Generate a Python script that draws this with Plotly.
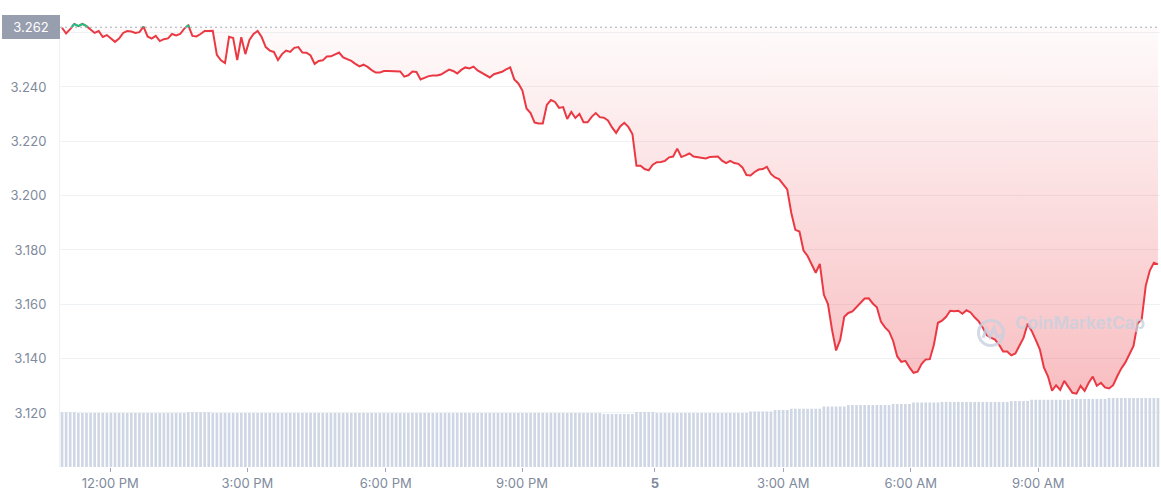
"""
24h price chart with volume bars, CoinMarketCap style
"""
import plotly.graph_objects as go

# opening price (reference line)
base_price = 3.262

# price samples, in order
price = [
    3.2618, 3.2597, 3.2613, 3.2632, 3.2624, 3.2632, 3.2624, 3.2610, 3.2599, 3.2606,
    3.2584, 3.2591, 3.2577, 3.2566, 3.2578, 3.2599, 3.2606, 3.2604, 3.2599, 3.2602,
    3.2622, 3.2586, 3.2578, 3.2588, 3.2569, 3.2576, 3.2579, 3.2595, 3.2590, 3.2595,
    3.2615, 3.2627, 3.2588, 3.2586, 3.2595, 3.2606, 3.2606, 3.2607, 3.2518, 3.2498,
    3.2488, 3.2585, 3.2580, 3.2499, 3.2583, 3.2521, 3.2573, 3.2595, 3.2606, 3.2584,
    3.2547, 3.2534, 3.2529, 3.2499, 3.2521, 3.2534, 3.2529, 3.2544, 3.2547, 3.2527,
    3.2526, 3.2516, 3.2485, 3.2496, 3.2498, 3.2512, 3.2513, 3.2521, 3.2527, 3.2509,
    3.2503, 3.2496, 3.2485, 3.2476, 3.2482, 3.2474, 3.2462, 3.2453, 3.2453, 3.2459,
    3.2459, 3.2459, 3.2459, 3.2457, 3.2438, 3.2443, 3.2457, 3.2455, 3.2428, 3.2435,
    3.2440, 3.2442, 3.2442, 3.2446, 3.2455, 3.2464, 3.2459, 3.2450, 3.2463, 3.2472,
    3.2468, 3.2475, 3.2461, 3.2453, 3.2442, 3.2435, 3.2447, 3.2451, 3.2456, 3.2465,
    3.2472, 3.2428, 3.2413, 3.2387, 3.2321, 3.2304, 3.2269, 3.2266, 3.2266, 3.2334,
    3.2352, 3.2345, 3.2323, 3.2326, 3.2282, 3.2308, 3.2286, 3.2301, 3.2270, 3.2270,
    3.2290, 3.2304, 3.2289, 3.2287, 3.2277, 3.2251, 3.2231, 3.2255, 3.2268, 3.2253,
    3.2227, 3.2110, 3.2110, 3.2098, 3.2093, 3.2114, 3.2123, 3.2124, 3.2128, 3.2141,
    3.2144, 3.2173, 3.2142, 3.2148, 3.2155, 3.2144, 3.2142, 3.2141, 3.2137, 3.2142,
    3.2142, 3.2144, 3.2129, 3.2120, 3.2128, 3.2120, 3.2117, 3.2104, 3.2076, 3.2074,
    3.2087, 3.2096, 3.2098, 3.2106, 3.2080, 3.2067, 3.2061, 3.2041, 3.2023, 3.1936,
    3.1874, 3.1868, 3.1798, 3.1778, 3.1749, 3.1716, 3.1749, 3.1635, 3.1601, 3.1506,
    3.1430, 3.1469, 3.1554, 3.1568, 3.1574, 3.1590, 3.1605, 3.1621, 3.1622, 3.1603,
    3.1589, 3.1536, 3.1515, 3.1500, 3.1465, 3.1408, 3.1388, 3.1392, 3.1368, 3.1348,
    3.1352, 3.1381, 3.1397, 3.1398, 3.1451, 3.1532, 3.1540, 3.1554, 3.1576, 3.1574,
    3.1576, 3.1565, 3.1578, 3.1570, 3.1552, 3.1537, 3.1514, 3.1486, 3.1477, 3.1470,
    3.1451, 3.1426, 3.1426, 3.1412, 3.1419, 3.1445, 3.1476, 3.1528, 3.1502, 3.1469,
    3.1434, 3.1368, 3.1335, 3.1282, 3.1302, 3.1285, 3.1318, 3.1296, 3.1274, 3.1271,
    3.1300, 3.1281, 3.1311, 3.1334, 3.1300, 3.1311, 3.1294, 3.1290, 3.1302, 3.1335,
    3.1364, 3.1386, 3.1415, 3.1447, 3.1530, 3.1544, 3.1668, 3.1724, 3.1753, 3.1747,
]

# 24h volume (millions) per sample
volume = [
    109.5, 109.5, 109.5, 109.5, 108, 108, 108, 108, 108, 108,
    108, 108, 108, 108, 108, 108, 108, 108, 108, 108,
    108, 108, 108, 108, 108, 108, 108, 108, 108, 108,
    108, 109.5, 109.5, 109.5, 109.5, 109.5, 109.5, 108, 108, 108,
    108, 108, 108, 108, 108, 108, 108, 108, 108, 108,
    108, 108, 108, 108, 108, 108, 108, 108, 108, 108,
    108, 108, 108, 108, 108, 108, 108, 108, 108, 108,
    108, 108, 108, 108, 108, 108, 108, 108, 108, 108,
    108, 108, 108, 108, 108, 108, 108, 108, 108, 108,
    108, 108, 108, 108, 108, 108, 108, 108, 108, 108,
    108, 108, 108, 108, 108, 108, 108, 108, 108, 108,
    108, 108, 108, 108, 108, 108, 108, 108, 108, 108,
    108, 108, 108, 108, 108, 108, 108, 108, 108, 108,
    108, 108, 108, 106, 106, 106, 106, 106, 106, 106,
    106, 110, 110, 110, 110, 110, 108, 108, 108, 108,
    108, 108, 108, 108, 108, 108, 108, 108, 108, 108,
    108, 108, 108, 108, 108, 108, 108, 108, 108, 111,
    111, 111, 111, 111, 111, 114, 114, 114, 114, 116.5,
    116.5, 116.5, 116.5, 116.5, 116.5, 116.5, 116.5, 121, 121, 121,
    121, 121, 121, 124, 124, 124, 124, 124, 124, 124,
    124, 124, 124, 124, 126, 126, 126, 126, 126, 129,
    129, 129, 129, 129, 129, 129, 130, 130, 130, 130,
    130, 130, 130, 130, 130, 130, 130, 130, 130, 130,
    130, 130, 130, 132, 132, 132, 132, 132, 134.5, 134.5,
    134.5, 134.5, 134.5, 134.5, 134.5, 134.5, 134.5, 134.5, 136, 136,
    136, 136, 136, 136, 136, 136, 136, 138, 138, 138,
    138, 138, 138, 138, 138, 138, 138, 138, 138, 138,
]

# x-axis labels and the sample position where each one falls
tick_labels = ["12:00 PM", "3:00 PM", "6:00 PM", "9:00 PM", "<b>5</b>",
               "3:00 AM", "6:00 AM", "9:00 AM"]
tick_pos = [11.85, 45.5, 79.45, 112.9, 145.5, 177.0, 208.3, 239.6]

y_ticks = [3.12, 3.14, 3.16, 3.18, 3.20, 3.22, 3.24, 3.26]

RED = "#ea3943"
GREEN = "#16c784"
GREY = "#808a9d"
MARK = "rgba(200,208,222,0.8)"

W, H = 1161, 500
ML, MR, MT, MB = 60, 1, 15, 33

idx = list(range(len(price)))

# pieces of the line that sit above the opening price are drawn green
gx, gy = [], []
for i in range(len(price) - 1):
    a, b = price[i], price[i + 1]
    if a < base_price and b < base_price:
        continue
    if a >= base_price and b >= base_price:
        seg = [(i, a), (i + 1, b)]
    elif a >= base_price:
        t = (a - base_price) / (a - b)
        seg = [(i, a), (i + t, base_price)]
    else:
        t = (base_price - a) / (b - a)
        seg = [(i + t, base_price), (i + 1, b)]
    gx += [seg[0][0], seg[1][0], None]
    gy += [seg[0][1], seg[1][1], None]

fig = go.Figure()

# volume bars in the background
fig.add_trace(go.Bar(
    x=idx, y=volume, yaxis="y2",
    marker=dict(color="#cfd6e4", line_width=0),
    hoverinfo="skip", showlegend=False,
))

# invisible baseline so the price can fill down from it
fig.add_trace(go.Scatter(
    x=idx, y=[base_price] * len(idx), mode="lines",
    line=dict(width=0), hoverinfo="skip", showlegend=False,
))

fig.add_trace(go.Scatter(
    x=idx, y=price, mode="lines",
    line=dict(color=RED, width=2),
    fill="tonexty",
    fillgradient=dict(
        type="vertical",
        colorscale=[[0, "rgba(234,57,67,0.34)"], [1, "rgba(234,57,67,0.02)"]],
        start=3.122, stop=base_price,
    ),
    showlegend=False,
))

fig.add_trace(go.Scatter(
    x=gx, y=gy, mode="lines",
    line=dict(color=GREEN, width=2),
    hoverinfo="skip", showlegend=False,
))

# dotted opening-price line
fig.add_shape(type="line", xref="paper", x0=0, x1=1, yref="y",
              y0=base_price, y1=base_price,
              line=dict(color="#a6adbb", width=1, dash="2px,3px"))

# price label box on the left
fig.add_annotation(
    xref="paper", x=0, xanchor="right", yref="y", y=base_price,
    text=f"{base_price:.3f}", showarrow=False,
    font=dict(color="white", size=13, family="Inter"),
    bgcolor="#979eae", width=54, height=20, borderpad=2, borderwidth=0,
)


# watermark logo, placed in pixels
def px(x, y):
    return (x - ML) / (W - ML - MR), (H - MB - y) / (H - MT - MB)


cx, cy, r = 991, 333, 12.5
x0, y0 = px(cx - r, cy + r)
x1, y1 = px(cx + r, cy - r)
fig.add_shape(type="circle", xref="paper", yref="paper",
              x0=x0, x1=x1, y0=y0, y1=y1,
              line=dict(color=MARK, width=3))
wave = [(-8, 5), (-5, -4), (-1, 4), (3, -5), (6, 4), (11, 2)]
path = ""
for k, (dx, dy) in enumerate(wave):
    qx, qy = px(cx + dx, cy + dy)
    path += ("M" if k == 0 else "L") + f"{qx:.5f},{qy:.5f} "
fig.add_shape(type="path", xref="paper", yref="paper", path=path,
              line=dict(color=MARK, width=3))

fx, fy = px(1013, 335)
fig.add_annotation(
    xref="paper", yref="paper", x=fx, y=fy, xanchor="left",
    text="<b>CoinMarketCap</b>", showarrow=False,
    font=dict(color=MARK, size=17, family="Inter"),
)

fig.update_layout(
    width=W, height=H,
    margin=dict(l=ML, r=MR, t=MT, b=MB),
    paper_bgcolor="white", plot_bgcolor="white",
    font=dict(family="Inter", color=GREY, size=13),
    bargap=0.35,
    xaxis=dict(
        range=[-0.5, len(price) - 0.5],
        tickvals=tick_pos, ticktext=tick_labels,
        ticks="outside", ticklen=4, tickcolor="#a1a7bb",
        showgrid=False, zeroline=False, showline=False,
        tickfont=dict(size=13, color=GREY),
    ),
    yaxis=dict(
        range=[3.1001, 3.2665],
        tickvals=y_ticks,
        ticktext=[f"{v:.3f}" if v < 3.25 else "" for v in y_ticks],
        gridcolor="#eff2f5", zeroline=False,
        showline=True, linecolor="#eff2f5",
        ticklabelstandoff=10,
        tickfont=dict(size=13, color=GREY),
    ),
    yaxis2=dict(overlaying="y", range=[0, 904], visible=False),
)

fig.write_html("out.html", config={"displayModeBar": False},
               post_script="document.body.style.margin='0';")
